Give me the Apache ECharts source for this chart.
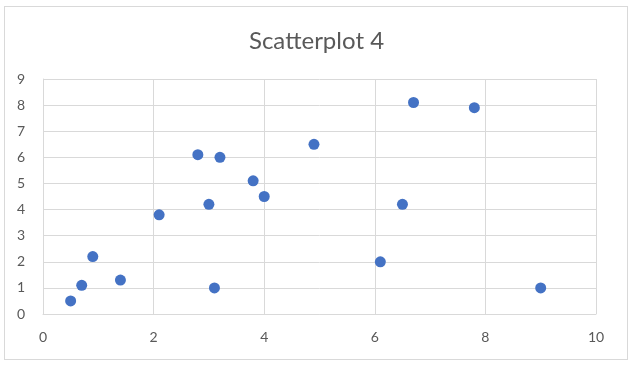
<!DOCTYPE html>
<html><head><meta charset="utf-8">
<script src="https://cdn.jsdelivr.net/npm/echarts@6/dist/echarts.min.js"></script>
<style>html,body{margin:0;padding:0;background:#fff}#c{width:633px;height:365px}
#frame{position:absolute;left:4px;top:6px;width:622px;height:352px;border:1px solid #d9d9d9;pointer-events:none}</style>
</head><body><div id="c"></div><div id="frame"></div>
<script>
const titleText = "Scatterplot 4";
const xValues = [0.5, 0.7, 0.9, 1.4, 2.1, 2.8, 3.0, 3.1, 3.2, 3.8, 4.0, 4.9, 6.1, 6.5, 6.7, 7.8, 9.0];
const yValues = [0.5, 1.1, 2.2, 1.3, 3.8, 6.1, 4.2, 1.0, 6.0, 5.1, 4.5, 6.5, 2.0, 4.2, 8.1, 7.9, 1.0];
const points = xValues.map((x, i) => [x, yValues[i]]);
const chart = echarts.init(document.getElementById('c'));
const font = 'Lato, "Open Sans", sans-serif';
chart.setOption({
  animation: false,
  title: { text: titleText, left: 'center', top: 24, textStyle: { fontFamily: font, fontSize: 24, fontWeight: 'normal', color: '#595959' } },
  grid: { left: 43, right: 37, top: 79, bottom: 51 },
  xAxis: { type: 'value', min: 0, max: 10, interval: 2,
    axisLine: { show: true, lineStyle: { color: '#d9d9d9' } }, axisTick: { show: false },
    splitLine: { show: true, lineStyle: { color: '#d9d9d9' } },
    axisLabel: { color: '#595959', fontFamily: font, fontSize: 14, margin: 16 } },
  yAxis: { type: 'value', min: 0, max: 9, interval: 1,
    axisLine: { show: true, lineStyle: { color: '#d9d9d9' } }, axisTick: { show: false },
    splitLine: { show: true, lineStyle: { color: '#d9d9d9' } },
    axisLabel: { color: '#595959', fontFamily: font, fontSize: 14, margin: 18 } },
  series: [{ type: 'scatter', data: points, symbolSize: 11, itemStyle: { color: '#4472C4', opacity: 1 } }]
});
</script></body></html>
